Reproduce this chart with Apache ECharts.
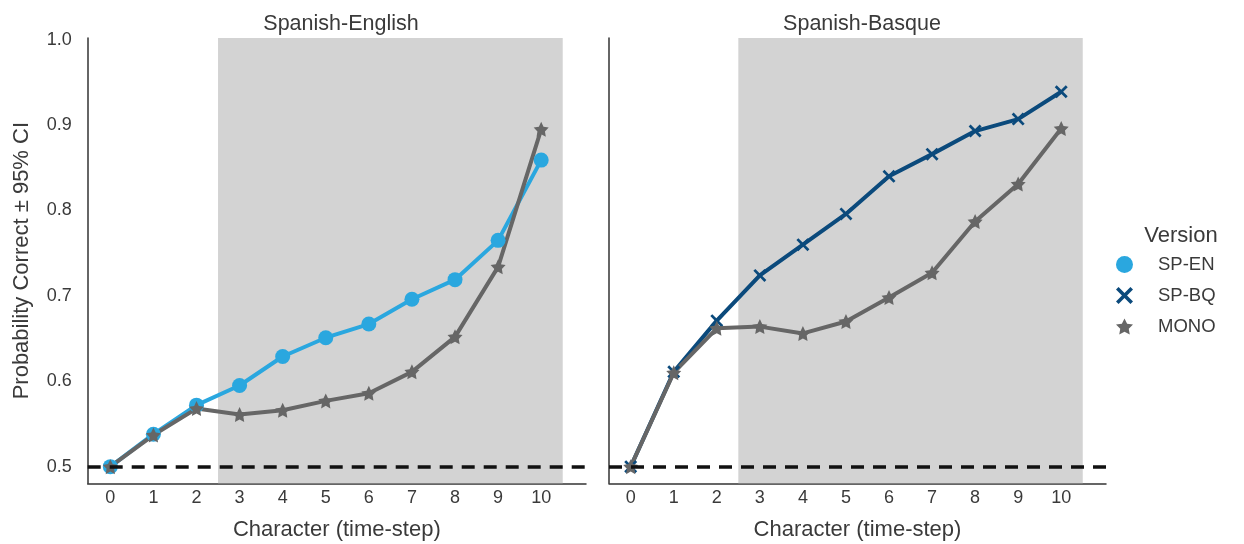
<!DOCTYPE html>
<html>
<head>
<meta charset="utf-8">
<script src="https://cdn.jsdelivr.net/npm/echarts@6/dist/echarts.min.js"></script>
<style>
html,body{margin:0;padding:0;background:#fff;}
#chart{width:1244px;height:544px;}
</style>
</head>
<body>
<div id="chart"></div>
<script>
const steps = [0,1,2,3,4,5,6,7,8,9,10];
const yTicks = [0.5,0.6,0.7,0.8,0.9,1.0];
const spEn   = [0.500,0.538,0.572,0.595,0.629,0.651,0.667,0.696,0.719,0.765,0.859];
const monoEn = [0.500,0.537,0.568,0.561,0.566,0.577,0.586,0.611,0.652,0.734,0.895];
const spBq   = [0.500,0.611,0.671,0.724,0.760,0.796,0.840,0.866,0.893,0.907,0.939];
const monoBq = [0.500,0.610,0.662,0.664,0.656,0.670,0.698,0.727,0.787,0.831,0.896];
const panelTitles = ['Spanish-English','Spanish-Basque'];
const legendNames = ['SP-EN','SP-BQ','MONO'];

const FONT = '"Liberation Sans", Arial, sans-serif';
const TXT = '#3a3a3a';
const C_EN = '#2aa7df';
const C_BQ = '#0b4a7c';
const C_MONO = '#666666';
const STAR = 'path://M0,-10 L2.94,-4.05 L9.51,-3.09 L4.76,1.55 L5.88,8.09 L0,5 L-5.88,8.09 L-4.76,1.55 L-9.51,-3.09 L-2.94,-4.05 Z';
const XMARK = 'path://M-10,-7 L-7,-10 L0,-3 L7,-10 L10,-7 L3,0 L10,7 L7,10 L0,3 L-7,10 L-10,7 L-3,0 Z';

const pairs = a => steps.map((s,i)=>[s,a[i]]);

const chart = echarts.init(document.getElementById('chart'), null, {renderer:'canvas'});

function xAx(idx, min){
  return {
    type:'value', gridIndex:idx, min:min, max:11.04,
    axisLine:{show:true, onZero:false, lineStyle:{color:'#333', width:1.5}},
    axisTick:{show:false},
    splitLine:{show:false},
    axisLabel:{customValues:steps, color:TXT, fontSize:18, fontFamily:FONT, margin:6, formatter:v=>String(Math.round(v))},
    name:'Character (time-step)', nameLocation:'middle', nameGap:36,
    nameTextStyle:{color:TXT, fontSize:22, fontFamily:FONT}
  };
}
function yAx(idx, labels){
  const o = {
    type:'value', gridIndex:idx, min:0.4805, max:1.002,
    axisLine:{show:true, onZero:false, lineStyle:{color:'#333', width:1.5}},
    axisTick:{show:false},
    splitLine:{show:false},
    axisLabel:{show:labels, customValues:yTicks, color:TXT, fontSize:18, fontFamily:FONT, margin:16, formatter:v=>v.toFixed(1)}
  };
  if(labels){
    o.name = 'Probability Correct \u00b1 95% CI';
    o.nameLocation = 'middle';
    o.nameGap = 55;
    o.nameTextStyle = {color:TXT, fontSize:22, fontFamily:FONT};
  }
  return o;
}
function helper(idx){
  return {
    name:'_band'+idx, type:'line', xAxisIndex:idx, yAxisIndex:idx, data:[], z:1, silent:true,
    markArea:{silent:true, itemStyle:{color:'#d3d3d3'}, data:[[{xAxis:2.5},{xAxis:10.5}]]},
    markLine:{silent:true, symbol:'none', label:{show:false},
      lineStyle:{color:'#111', width:3.5, type:[13,9]}, data:[{yAxis:0.5}]}
  };
}
function lineSeries(name, idx, data, color, symbol, size){
  return {
    name:name, type:'line', xAxisIndex:idx, yAxisIndex:idx, data:pairs(data), z:3,
    symbol:symbol, symbolSize:size, showSymbol:true,
    lineStyle:{color:color, width:4},
    itemStyle:{color:color},
    emphasis:{disabled:true}
  };
}

chart.setOption({
  animation:false,
  backgroundColor:'#fff',
  title:[
    {text:panelTitles[0], left:336, top:8, textAlign:'center', textStyle:{color:TXT, fontSize:21.5, fontWeight:'normal', fontFamily:FONT}},
    {text:panelTitles[1], left:857, top:8, textAlign:'center', textStyle:{color:TXT, fontSize:21.5, fontWeight:'normal', fontFamily:FONT}},
    {text:'Version', left:1176, top:220, textAlign:'center', textStyle:{color:TXT, fontSize:22, fontWeight:'normal', fontFamily:FONT}}
  ],
  legend:{
    orient:'vertical', left:1111, top:250, itemWidth:17, itemHeight:17, itemGap:12,
    data:[
      {name:legendNames[0], icon:'circle', itemStyle:{color:C_EN}},
      {name:legendNames[1], icon:XMARK, itemStyle:{color:C_BQ}},
      {name:legendNames[2], icon:STAR, itemStyle:{color:C_MONO}}
    ],
    textStyle:{color:TXT, fontSize:18.5, fontFamily:FONT, padding:[0,0,0,20]},
    selectedMode:false
  },
  grid:[
    {left:87.7, top:38, width:498.3, height:445.3, outerBoundsMode:'none'},
    {left:609, top:38, width:497, height:445.3, outerBoundsMode:'none'}
  ],
  xAxis:[xAx(0,-0.525), xAx(1,-0.504)],
  yAxis:[yAx(0,true), yAx(1,false)],
  series:[
    helper(0), helper(1),
    lineSeries(legendNames[0], 0, spEn, C_EN, 'circle', 15),
    lineSeries(legendNames[2], 0, monoEn, C_MONO, STAR, 15),
    lineSeries(legendNames[1], 1, spBq, C_BQ, XMARK, 13),
    lineSeries(legendNames[2], 1, monoBq, C_MONO, STAR, 15)
  ]
});
</script>
</body>
</html>
